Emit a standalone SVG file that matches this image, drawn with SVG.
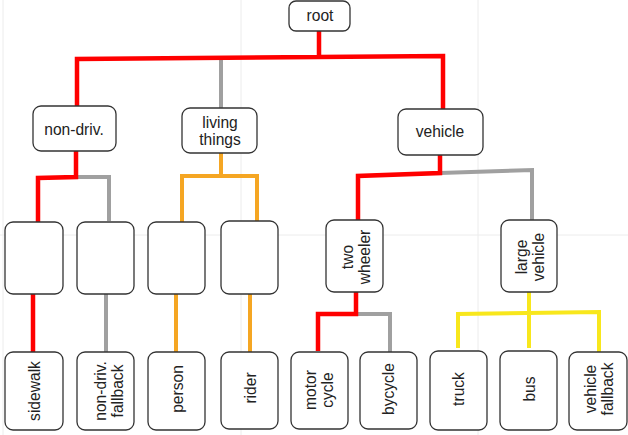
<svg xmlns="http://www.w3.org/2000/svg" width="628" height="435" viewBox="0 0 628 435">
<style>
.grid{stroke:#ececec;stroke-width:1;fill:none}
.box{fill:#fff;stroke:#333;stroke-width:1.3}
.t{font-family:"Liberation Sans",Arial,sans-serif;font-size:15.6px;fill:#222;text-anchor:middle;dominant-baseline:central}
.c{fill:none;stroke-linejoin:miter;stroke-linecap:butt}
.red{stroke:#ff0000;stroke-width:4.5}
.gray{stroke:#a0a0a0;stroke-width:4}
.org{stroke:#f5a623;stroke-width:4}
.yel{stroke:#f8e71c;stroke-width:4}
</style>
<rect width="628" height="435" fill="#fff"/>
<g id="grid">
<line class="grid" x1="3" y1="0" x2="3" y2="435"/>
<line class="grid" x1="241" y1="0" x2="241" y2="435"/>
<line class="grid" x1="478" y1="0" x2="478" y2="435"/>
<line class="grid" x1="0" y1="235" x2="628" y2="235"/>
</g>
<g id="connectors">
<path class="c gray" d="M221,58 V108"/>
<path class="c red" d="M319,31 V57 M77,106 V59 L443,56 V109"/>
<path class="c gray" d="M76,177 L109,177 V221"/>
<path class="c red" d="M76,151 V177 L38,178 V222"/>
<path class="c red" d="M33,294 V352"/>
<path class="c gray" d="M106,294 V352"/>
<path class="c org" d="M221,153 V176 M182,222 V176 L257,176 V221"/>
<path class="c org" d="M176,294 V352 M250,294 V352"/>
<path class="c gray" d="M440,173 L532,170 V220"/>
<path class="c red" d="M440,155 V173 L358,176 V220"/>
<path class="c gray" d="M356,314 L390,314 V352"/>
<path class="c red" d="M356,292 V314 L318,314 V351"/>
<path class="c yel" d="M529,292 V348 M458,348 V314 L599,312 V352"/>
</g>
<g id="root"><rect class="box" x="289" y="1" width="61" height="30" rx="7"/><text class="t" x="320" y="15">root</text></g>
<g id="nondriv"><rect class="box" x="33" y="106" width="83" height="45" rx="8"/><text class="t" x="74" y="129">non-driv.</text></g>
<g id="living"><rect class="box" x="182" y="108" width="75" height="45" rx="8"/><text class="t" x="220" y="122">living</text><text class="t" x="220" y="139">things</text></g>
<g id="vehicle"><rect class="box" x="398" y="109" width="85" height="46" rx="8"/><text class="t" x="440" y="131">vehicle</text></g>
<g id="b1"><rect class="box" x="5" y="222" width="58" height="72" rx="8"/></g>
<g id="b2"><rect class="box" x="77" y="222" width="57" height="72" rx="8"/></g>
<g id="b3"><rect class="box" x="148" y="222" width="57" height="72" rx="8"/></g>
<g id="b4"><rect class="box" x="221" y="221" width="57" height="73" rx="8"/></g>
<g id="twowheeler"><rect class="box" x="326" y="220" width="57" height="72" rx="8"/><text class="t" transform="translate(355,257) rotate(-90)"><tspan x="0" y="-8.5">two</tspan><tspan x="0" y="8.5">wheeler</tspan></text></g>
<g id="largevehicle"><rect class="box" x="501" y="220" width="56" height="72" rx="8"/><text class="t" transform="translate(529,257) rotate(-90)"><tspan x="0" y="-8.5">large</tspan><tspan x="0" y="8.5">vehicle</tspan></text></g>
<g id="sidewalk"><rect class="box" x="5" y="352" width="58" height="78" rx="8"/><text class="t" transform="translate(34,391) rotate(-90)">sidewalk</text></g>
<g id="nondrivfallback"><rect class="box" x="77" y="352" width="57" height="78" rx="8"/><text class="t" transform="translate(108,391) rotate(-90)"><tspan x="0" y="-8.5">non-driv.</tspan><tspan x="0" y="8.5">fallback</tspan></text></g>
<g id="person"><rect class="box" x="148" y="352" width="57" height="78" rx="8"/><text class="t" transform="translate(177,389) rotate(-90)">person</text></g>
<g id="rider"><rect class="box" x="221" y="352" width="57" height="77" rx="8"/><text class="t" transform="translate(250,388) rotate(-90)">rider</text></g>
<g id="motorcycle"><rect class="box" x="291" y="352" width="57" height="77" rx="8"/><text class="t" transform="translate(318,390) rotate(-90)"><tspan x="0" y="-8.5">motor</tspan><tspan x="0" y="8.5">cycle</tspan></text></g>
<g id="bycycle"><rect class="box" x="360" y="352" width="57" height="77" rx="8"/><text class="t" transform="translate(388,389) rotate(-90)">bycycle</text></g>
<g id="truck"><rect class="box" x="430" y="351" width="57" height="79" rx="8"/><text class="t" transform="translate(458,389) rotate(-90)">truck</text></g>
<g id="bus"><rect class="box" x="500" y="351" width="57" height="79" rx="8"/><text class="t" transform="translate(529,389) rotate(-90)">bus</text></g>
<g id="vehiclefallback"><rect class="box" x="569" y="352" width="58" height="78" rx="8"/><text class="t" transform="translate(598,389) rotate(-90)"><tspan x="0" y="-8.5">vehicle</tspan><tspan x="0" y="8.5">fallback</tspan></text></g>
</svg>
